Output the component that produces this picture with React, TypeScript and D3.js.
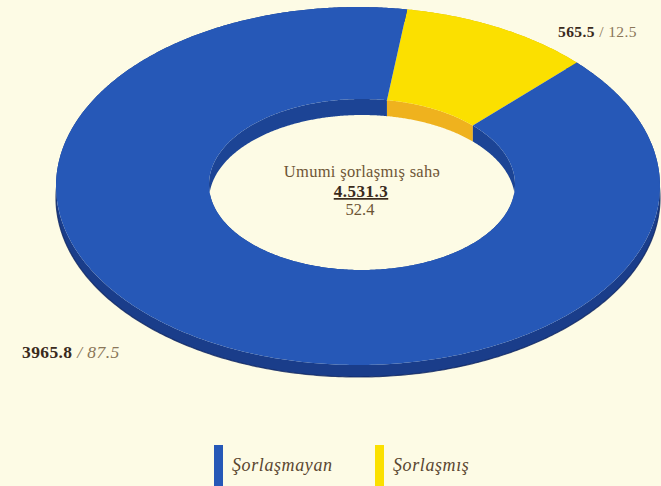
import React from 'react';
import * as d3 from 'd3';

// ---- data ----
const categories = ['Şorlaşmış', 'Şorlaşmayan'];
const areaValues = [565.5, 3965.8];
const percentValues = [12.5, 87.5];
const areaLabels = ['565.5', '3965.8'];
const percentLabels = ['12.5', '87.5'];
const centerTitle = 'Umumi şorlaşmış sahə';
const totalAreaLabel = '4.531.3';
const totalPercentLabel = '52.4';
const legendOrder = ['Şorlaşmayan', 'Şorlaşmış'];

// ---- styles ----
const W = 661;
const H = 486;
const BG = '#fdfbe5';
const topColors: Record<string, string> = { 'Şorlaşmış': '#fbe000', 'Şorlaşmayan': '#2658b7' };
const innerWallColors: Record<string, string> = { 'Şorlaşmış': '#efb21e', 'Şorlaşmayan': '#1c4495' };
const outerWallColors: Record<string, string> = { 'Şorlaşmış': '#d4b200', 'Şorlaşmayan': '#1a3d8a' };

const outer = { cx: 358, cy: 186, rx: 302, ry: 179, depth: 12 };
const inner = { cx: 362, cy: 184.5, rx: 153, ry: 85.5, depth: 16 };
const startDeg = 12;
const perspectiveK = 0.22; // far side (top) appears compressed

type Ell = { cx: number; cy: number; rx: number; ry: number; depth: number };

function project(a: number) {
  return a - perspectiveK * Math.sin(a);
}

function arcPoints(e: Ell, a0: number, a1: number, dy = 0): [number, number][] {
  const n = Math.max(8, Math.ceil(Math.abs(a1 - a0) / 0.01));
  const pts: [number, number][] = [];
  for (let i = 0; i <= n; i++) {
    const a = project(a0 + ((a1 - a0) * i) / n);
    pts.push([e.cx + e.rx * Math.sin(a), e.cy - e.ry * Math.cos(a) + dy]);
  }
  return pts;
}

const line = d3.line<[number, number]>().curve(d3.curveLinear);

export default function App() {
  const start = (startDeg * Math.PI) / 180;
  const pie = d3
    .pie<number>()
    .sort(null)
    .startAngle(start)
    .endAngle(start + 2 * Math.PI)(percentValues);

  const slices = pie.map((p, i) => ({ p, name: categories[i] }));

  const outerWalls = slices.map(({ p, name }) => {
    const top = arcPoints(outer, p.startAngle, p.endAngle);
    const bot = arcPoints(outer, p.endAngle, p.startAngle, outer.depth);
    return { name, d: line([...top, ...bot]) + 'Z', edge: line(arcPoints(outer, p.startAngle, p.endAngle, outer.depth)) };
  });
  const innerWalls = slices.map(({ p, name }) => {
    const top = arcPoints(inner, p.startAngle, p.endAngle);
    const bot = arcPoints(inner, p.endAngle, p.startAngle, inner.depth);
    return { name, d: line([...top, ...bot]) + 'Z' };
  });
  const tops = slices.map(({ p, name }) => {
    const o = arcPoints(outer, p.startAngle, p.endAngle);
    const inn = arcPoints(inner, p.endAngle, p.startAngle);
    return { name, d: line([...o, ...inn]) + 'Z' };
  });

  const serif = '"Liberation Serif", "DejaVu Serif", serif';

  return (
    <svg
      width={W}
      height={H}
      viewBox={`0 0 ${W} ${H}`}
      style={{ position: 'absolute', left: 0, top: 0, display: 'block' }}
    >
      <rect x={0} y={0} width={W} height={H} fill={BG} />
      <g>
        {outerWalls.map((w, i) => (
          <path key={'ow' + i} d={w.d} fill={outerWallColors[w.name]} />
        ))}
        {outerWalls.map((w, i) => (
          <path key={'oe' + i} d={w.edge || ''} fill="none" stroke="#0f2560" strokeWidth={1.2} opacity={0.8} />
        ))}
        {innerWalls.map((w, i) => (
          <path key={'iw' + i} d={w.d} fill={innerWallColors[w.name]} />
        ))}
        {tops.map((t, i) => (
          <path key={'t' + i} d={t.d} fill={topColors[t.name]} />
        ))}
      </g>

      <g fontFamily={serif} textAnchor="middle">
        <text x={362} y={177} fontSize={16.5} fill="#6e5535" letterSpacing={0.3}>
          {centerTitle}
        </text>
        <text x={361} y={197} fontSize={17} fontWeight="bold" fill="#3a2a1c" textDecoration="underline" letterSpacing={0.5}>
          {totalAreaLabel}
        </text>
        <text x={360} y={215} fontSize={16.5} fill="#6e5535">
          {totalPercentLabel}
        </text>
      </g>

      <g fontFamily={serif} fontSize={15.5} letterSpacing={0.4}>
        <text x={558} y={37}>
          <tspan fontWeight="bold" fill="#3a2a1c">{areaLabels[0]}</tspan>
          <tspan fill="#8a7658">{' / ' + percentLabels[0]}</tspan>
        </text>
        <text x={22} y={358} fontSize={17.5}>
          <tspan fontWeight="bold" fill="#3a2a1c">{areaLabels[1]}</tspan>
          <tspan fill="#8a7658" fontStyle="italic">{' / ' + percentLabels[1]}</tspan>
        </text>
      </g>

      <g fontFamily={serif} fontStyle="italic" fontSize={18} fill="#5a4630" letterSpacing={0.6}>
        {legendOrder.map((name, i) => {
          const x0 = i === 0 ? 214 : 375;
          return (
            <g key={name}>
              <rect x={x0} y={445} width={9} height={45} fill={topColors[name]} />
              <text x={x0 + 18} y={471}>
                {name}
              </text>
            </g>
          );
        })}
      </g>
    </svg>
  );
}
